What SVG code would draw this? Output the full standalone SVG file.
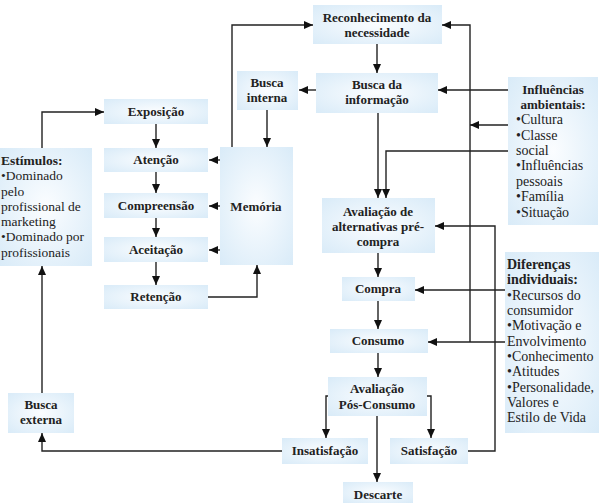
<svg xmlns="http://www.w3.org/2000/svg" width="601" height="503" viewBox="0 0 601 503">
<defs>
<radialGradient id="g" cx="50%" cy="50%" r="70%">
<stop offset="0" stop-color="#fbfdff"/>
<stop offset="1" stop-color="#d9ebf8"/>
</radialGradient>
<marker id="a" markerUnits="userSpaceOnUse" markerWidth="10" markerHeight="8" refX="9" refY="4" orient="auto">
<path d="M0,0 L9,4 L0,8 Z" fill="#111"/>
</marker>
<style>
.b{fill:url(#g);}
.t{font-family:"Liberation Serif","Times New Roman",serif;font-weight:bold;font-size:13px;fill:#222;text-anchor:middle;}
.l{font-family:"Liberation Serif","Times New Roman",serif;font-size:13.5px;fill:#222;}
.w{font-size:14px;}
.lb{font-weight:bold;}
.c path{fill:none;stroke:#222;stroke-width:1.4;}
.c .ar{marker-end:url(#a);}
</style>
</defs>
<rect width="601" height="503" fill="#fff"/>

<g id="reconhecimento"><rect class="b" x="313" y="5" width="129" height="39"/><text class="t" x="377" y="22">Reconhecimento da</text><text class="t" x="377" y="37">necessidade</text></g>
<g id="busca-informacao"><rect class="b" x="316" y="73" width="122" height="40"/><text class="t" x="377" y="89">Busca da</text><text class="t" x="377" y="104">informação</text></g>
<g id="busca-interna"><rect class="b" x="237" y="71" width="61" height="39"/><text class="t" x="267" y="87">Busca</text><text class="t" x="267" y="102">interna</text></g>
<g id="exposicao"><rect class="b" x="104" y="99" width="104" height="25"/><text class="t" x="156" y="116">Exposição</text></g>
<g id="atencao"><rect class="b" x="104" y="148" width="104" height="24"/><text class="t" x="156" y="164">Atenção</text></g>
<g id="compreensao"><rect class="b" x="104" y="193" width="104" height="25"/><text class="t" x="156" y="210">Compreensão</text></g>
<g id="aceitacao"><rect class="b" x="104" y="237" width="104" height="25"/><text class="t" x="156" y="254">Aceitação</text></g>
<g id="retencao"><rect class="b" x="104" y="285" width="104" height="24"/><text class="t" x="156" y="301">Retenção</text></g>
<g id="memoria"><rect class="b" x="220" y="147" width="73" height="118"/><text class="t" x="256" y="211">Memória</text></g>
<g id="estimulos"><rect class="b" x="0" y="148" width="92" height="118"/>
<text class="l" x="1" y="165"><tspan class="lb">Estímulos:</tspan></text>
<text class="l" x="1" y="180">•Dominado</text>
<text class="l" x="1" y="196">pelo</text>
<text class="l" x="1" y="211">profissional de</text>
<text class="l" x="1" y="226">marketing</text>
<text class="l" x="1" y="241">•Dominado por</text>
<text class="l" x="1" y="257">profissionais</text>
</g>
<g id="busca-externa"><rect class="b" x="8" y="393" width="66" height="40"/><text class="t" x="41" y="409">Busca</text><text class="t" x="41" y="424">externa</text></g>
<g id="influencias"><rect class="b" x="508" y="77" width="90" height="148"/>
<text class="t" x="553" y="94">Influências</text>
<text class="t" x="553" y="109">ambientais:</text>
<text class="l w" x="516" y="124">•Cultura</text>
<text class="l w" x="516" y="140">•Classe</text>
<text class="l w" x="516" y="155">social</text>
<text class="l w" x="516" y="170">•Influências</text>
<text class="l w" x="516" y="186">pessoais</text>
<text class="l w" x="516" y="201">•Família</text>
<text class="l w" x="516" y="217">•Situação</text>
</g>
<g id="avaliacao-pre"><rect class="b" x="322" y="198" width="113" height="55"/><text class="t" x="378" y="216">Avaliação de</text><text class="t" x="378" y="231">alternativas pré-</text><text class="t" x="378" y="246">compra</text></g>
<g id="diferencas"><rect class="b" x="505" y="252" width="94" height="181"/>
<text class="l w lb" x="507" y="269">Diferenças</text>
<text class="l w lb" x="507" y="284">individuais:</text>
<text class="l w" x="507" y="300">•Recursos do</text>
<text class="l w" x="507" y="315">consumidor</text>
<text class="l w" x="507" y="330">•Motivação e</text>
<text class="l w" x="507" y="346">Envolvimento</text>
<text class="l w" x="507" y="361">•Conhecimento</text>
<text class="l w" x="507" y="376">•Atitudes</text>
<text class="l w" x="507" y="392">•Personalidade,</text>
<text class="l w" x="507" y="407">Valores e</text>
<text class="l w" x="507" y="422">Estilo de Vida</text>
</g>
<g id="compra"><rect class="b" x="342" y="277" width="73" height="24"/><text class="t" x="378" y="293">Compra</text></g>
<g id="consumo"><rect class="b" x="330" y="329" width="98" height="24"/><text class="t" x="378" y="345">Consumo</text></g>
<g id="avaliacao-pos"><rect class="b" x="328" y="377" width="99" height="39"/><text class="t" x="377" y="393">Avaliação</text><text class="t" x="377" y="409">Pós-Consumo</text></g>
<g id="insatisfacao"><rect class="b" x="282" y="438" width="86" height="26"/><text class="t" x="325" y="455">Insatisfação</text></g>
<g id="satisfacao"><rect class="b" x="390" y="438" width="78" height="26"/><text class="t" x="429" y="455">Satisfação</text></g>
<g id="descarte"><rect class="b" x="343" y="482" width="70" height="21"/><text class="t" x="378" y="499">Descarte</text></g>

<g id="connectors" class="c">
<path class="ar" d="M377,44 V73"/>
<path class="ar" d="M316,90 H299"/>
<path class="ar" d="M267,110 V147"/>
<path class="ar" d="M232,147 V25 H313"/>
<path class="ar" d="M220,160 H209"/>
<path class="ar" d="M220,206 H209"/>
<path class="ar" d="M220,250 H209"/>
<path class="ar" d="M208,297 H257 V265"/>
<path class="ar" d="M156,124 V148"/>
<path class="ar" d="M156,172 V193"/>
<path class="ar" d="M156,218 V237"/>
<path class="ar" d="M156,262 V285"/>
<path class="ar" d="M42,148 V112 H104"/>
<path class="ar" d="M42,393 V266"/>
<path class="ar" d="M282,451 H42 V433"/>
<path class="ar" d="M378,113 V198"/>
<path class="ar" d="M508,151 H386 V198"/>
<path class="ar" d="M508,90 H438"/>
<path class="ar" d="M508,125 H470"/>
<path class="ar" d="M470,342 V25 H442"/>
<path class="ar" d="M505,342 H428"/>
<path class="ar" d="M468,451 H495 V226 H435"/>
<path class="ar" d="M505,290 H415"/>
<path class="ar" d="M378,253 V277"/>
<path class="ar" d="M378,301 V329"/>
<path class="ar" d="M378,353 V377"/>
<path class="ar" d="M328,396 H326 V438"/>
<path class="ar" d="M427,396 H431 V438"/>
<path class="ar" d="M377,416 V482"/>
</g>
</svg>
